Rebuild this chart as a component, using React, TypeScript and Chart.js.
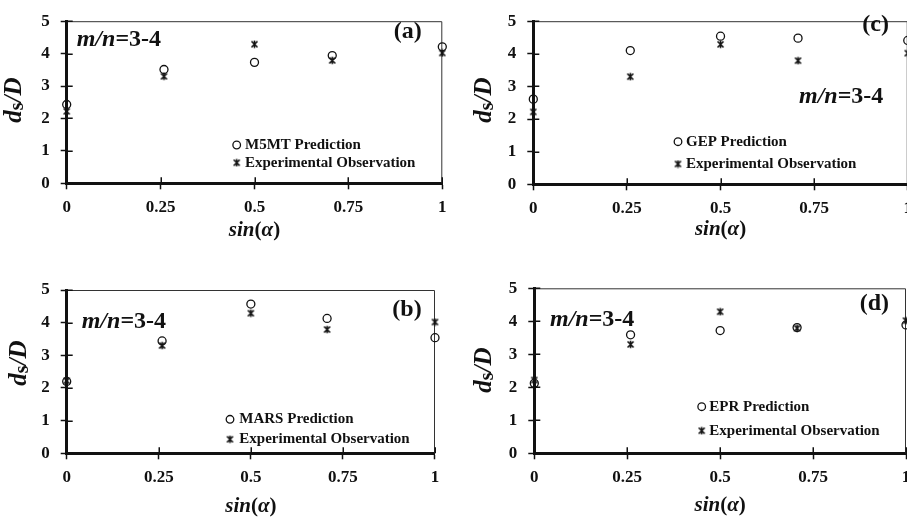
import React, { useEffect, useRef } from 'react';
import { Chart, registerables } from 'chart.js';
Chart.register(...registerables);

// ---- data ----
const sinAlpha = [0, 0.259, 0.5, 0.707, 1];
const xTickValues = [0, 0.25, 0.5, 0.75, 1];
const yTickValues = [0, 1, 2, 3, 4, 5];
const experimental = [2.22, 3.3, 4.29, 3.79, 4.02];
const m5mtPrediction = [2.43, 3.51, 3.73, 3.94, 4.21];
const gepPrediction = [2.61, 4.1, 4.54, 4.48, 4.41];
const marsPrediction = [2.2, 3.44, 4.57, 4.13, 3.54];
const eprPrediction = [2.12, 3.59, 3.72, 3.81, 3.89];
const panelTags = ['(a)', '(c)', '(b)', '(d)'];
const predictionLabels = ['M5MT Prediction', 'GEP Prediction', 'MARS Prediction', 'EPR Prediction'];
const expLabel = 'Experimental Observation';
const ratioLabel = ['m', '/', 'n', '=3-4'];

const FAM = "'Liberation Serif', 'Times New Roman', serif";
const CW = 920;
const CH = 517;
const YW = 40;
const XH = 40;

type Layout = {
  area: { l: number; t: number; r: number; b: number };
  legend: { cx: number; y1: number; y2: number; tx: number };
  mn: { x: number; cy: number };
  tag: { r: number; cy: number };
  ytitle: { cx: number; cy: number };
  xtitleCy: number;
};

const layouts: Layout[] = [
  { area: { l: 66.7, t: 15, r: 442.3, b: 183.3 }, legend: { cx: 236.7, y1: 145, y2: 162.7, tx: 245 }, mn: { x: 76.7, cy: 40 }, tag: { r: 421.7, cy: 31.7 }, ytitle: { cx: 15, cy: 100 }, xtitleCy: 231 },
  { area: { l: 533.3, t: 13.3, r: 910.2, b: 184.3 }, legend: { cx: 678, y1: 141.7, y2: 164, tx: 686 }, mn: { x: 799, cy: 96.7 }, tag: { r: 889, cy: 25 }, ytitle: { cx: 485, cy: 100 }, xtitleCy: 230 },
  { area: { l: 66.7, t: 290, r: 435, b: 453.3 }, legend: { cx: 230, y1: 419.3, y2: 439.3, tx: 239.3 }, mn: { x: 81.7, cy: 321.7 }, tag: { r: 421.7, cy: 310 }, ytitle: { cx: 20, cy: 363 }, xtitleCy: 506.7 },
  { area: { l: 534.3, t: 288.3, r: 906, b: 453.3 }, legend: { cx: 701.7, y1: 406.7, y2: 430.7, tx: 709.3 }, mn: { x: 550, cy: 320 }, tag: { r: 889, cy: 303.3 }, ytitle: { cx: 485, cy: 370 }, xtitleCy: 506 },
];

const predictions = [m5mtPrediction, gepPrediction, marsPrediction, eprPrediction];

function makeStar(): HTMLCanvasElement {
  const c = document.createElement('canvas');
  c.width = 9;
  c.height = 9;
  const g = c.getContext('2d')!;
  g.strokeStyle = '#111';
  g.lineWidth = 1.6;
  g.beginPath();
  g.moveTo(1.5, 1.5); g.lineTo(7.5, 7.5);
  g.moveTo(7.5, 1.5); g.lineTo(1.5, 7.5);
  g.moveTo(4.5, 0.8); g.lineTo(4.5, 8.2);
  g.stroke();
  return c;
}

type Part = { t: string; font: string; dy?: number };

function drawParts(g: CanvasRenderingContext2D, parts: Part[], x: number, y: number, align: 'left' | 'center') {
  let w = 0;
  for (const p of parts) { g.font = p.font; w += g.measureText(p.t).width; }
  let cx = align === 'center' ? x - w / 2 : x;
  g.textAlign = 'left';
  g.textBaseline = 'middle';
  for (const p of parts) {
    g.font = p.font;
    g.fillText(p.t, cx, y + (p.dy || 0));
    cx += g.measureText(p.t).width;
  }
}

function makePlugin(idx: number, star: HTMLCanvasElement) {
  const L = layouts[idx];
  return {
    id: 'deco' + idx,
    beforeDatasetsDraw(chart: any) {
      const g = chart.ctx as CanvasRenderingContext2D;
      const a = chart.chartArea;
      g.save();
      g.strokeStyle = '#333';
      g.lineWidth = 1;
      g.beginPath();
      g.moveTo(a.left, a.top + 0.5);
      g.lineTo(a.right - 0.5, a.top + 0.5);
      g.lineTo(a.right - 0.5, a.bottom);
      g.stroke();
      // inner tick marks
      g.strokeStyle = '#111';
      g.lineWidth = 1.5;
      g.beginPath();
      const ys = chart.scales.y;
      for (const t of ys.ticks) {
        const py = Math.round(ys.getPixelForValue(t.value)) + 0.25;
        g.moveTo(a.left, py);
        g.lineTo(a.left + 6, py);
      }
      const xs = chart.scales.x;
      for (const t of xs.ticks) {
        const px = Math.round(xs.getPixelForValue(t.value)) + 0.25;
        g.moveTo(px, a.bottom);
        g.lineTo(px, a.bottom - 6);
      }
      g.stroke();
      g.restore();
    },
    afterDraw(chart: any) {
      const g = chart.ctx as CanvasRenderingContext2D;
      const a = chart.chartArea;
      g.save();
      g.fillStyle = '#111';
      // legend
      g.strokeStyle = '#111';
      g.lineWidth = 1.3;
      g.beginPath();
      g.arc(L.legend.cx, L.legend.y1, 3.8, 0, Math.PI * 2);
      g.stroke();
      g.drawImage(star, L.legend.cx - 4.5, L.legend.y2 - 4.5);
      g.font = `bold 15px ${FAM}`;
      g.textAlign = 'left';
      g.textBaseline = 'middle';
      g.fillText(predictionLabels[idx], L.legend.tx, L.legend.y1);
      g.fillText(expLabel, L.legend.tx, L.legend.y2);
      // m/n label
      drawParts(g, [
        { t: ratioLabel[0], font: `italic bold 24px ${FAM}` },
        { t: ratioLabel[1], font: `italic bold 24px ${FAM}` },
        { t: ratioLabel[2], font: `italic bold 24px ${FAM}` },
        { t: ratioLabel[3], font: `bold 24px ${FAM}` },
      ], L.mn.x, L.mn.cy, 'left');
      // tag
      g.font = `bold 24px ${FAM}`;
      g.textAlign = 'right';
      g.textBaseline = 'middle';
      g.fillText(panelTags[idx], L.tag.r, L.tag.cy);
      // x title
      drawParts(g, [
        { t: 'sin', font: `italic bold 21px ${FAM}` },
        { t: '(', font: `bold 21px ${FAM}` },
        { t: 'α', font: `italic bold 21px ${FAM}` },
        { t: ')', font: `bold 21px ${FAM}` },
      ], (a.left + a.right) / 2, L.xtitleCy, 'center');
      // y title
      g.translate(L.ytitle.cx, L.ytitle.cy);
      g.rotate(-Math.PI / 2);
      drawParts(g, [
        { t: 'd', font: `italic bold 25px ${FAM}` },
        { t: 's', font: `bold 20px ${FAM}`, dy: 3 },
        { t: '/', font: `italic bold 25px ${FAM}` },
        { t: 'D', font: `italic bold 25px ${FAM}` },
      ], 0, 0, 'center');
      g.restore();
    },
  };
}

function Panel({ idx }: { idx: number }) {
  const ref = useRef<HTMLCanvasElement>(null);
  useEffect(() => {
    const L = layouts[idx];
    const star = makeStar();
    const pred = predictions[idx];
    const tickFont = { family: FAM, size: 17, weight: 'bold' as const };
    const chart = new Chart(ref.current!, {
      type: 'scatter',
      data: {
        datasets: [
          {
            label: predictionLabels[idx],
            data: sinAlpha.map((x, i) => ({ x, y: pred[i] })),
            pointStyle: 'circle',
            pointRadius: 4,
            borderColor: '#111',
            backgroundColor: 'rgba(0,0,0,0)',
            borderWidth: 1.3,
            clip: false as any,
          },
          {
            label: expLabel,
            data: sinAlpha.map((x, i) => ({ x, y: experimental[i] })),
            pointStyle: star as any,
            pointRadius: 4.5,
            borderColor: '#111',
            backgroundColor: '#111',
            clip: false as any,
          },
        ],
      },
      options: {
        responsive: false,
        animation: false,
        events: [],
        layout: {
          padding: {
            left: L.area.l - YW,
            top: L.area.t,
            right: CW - L.area.r,
            bottom: CH - L.area.b - XH,
          },
        },
        plugins: { legend: { display: false }, tooltip: { enabled: false } },
        scales: {
          x: {
            type: 'linear',
            min: 0,
            max: 1,
            afterFit: (s: any) => { s.height = XH; },
            afterBuildTicks: (s: any) => { s.ticks = xTickValues.map((v) => ({ value: v })); },
            ticks: { font: tickFont, color: '#111', padding: 8, maxRotation: 0, callback: (v: any) => String(v) },
            grid: { drawOnChartArea: false, drawTicks: true, tickLength: 6, tickWidth: 1.5, tickColor: '#111' },
            border: { display: true, width: 3, color: '#111' },
          },
          y: {
            type: 'linear',
            min: 0,
            max: 5,
            afterFit: (s: any) => { s.width = YW; },
            afterBuildTicks: (s: any) => { s.ticks = yTickValues.map((v) => ({ value: v })); },
            ticks: { font: tickFont, color: '#111', padding: 11, callback: (v: any) => String(v) },
            grid: { drawOnChartArea: false, drawTicks: true, tickLength: 6, tickWidth: 1.5, tickColor: '#111' },
            border: { display: true, width: 3, color: '#111' },
          },
        },
      },
      plugins: [makePlugin(idx, star)],
    });
    return () => chart.destroy();
  }, [idx]);
  return (
    <canvas
      ref={ref}
      width={CW}
      height={CH}
      style={{ position: 'absolute', left: 0, top: 0, width: CW, height: CH }}
    />
  );
}

export default function App() {
  return (
    <div style={{ position: 'absolute', left: 0, top: 0, width: 907, height: 517, overflow: 'hidden', background: '#fff' }}>
      {[0, 1, 2, 3].map((i) => (
        <Panel key={i} idx={i} />
      ))}
    </div>
  );
}
